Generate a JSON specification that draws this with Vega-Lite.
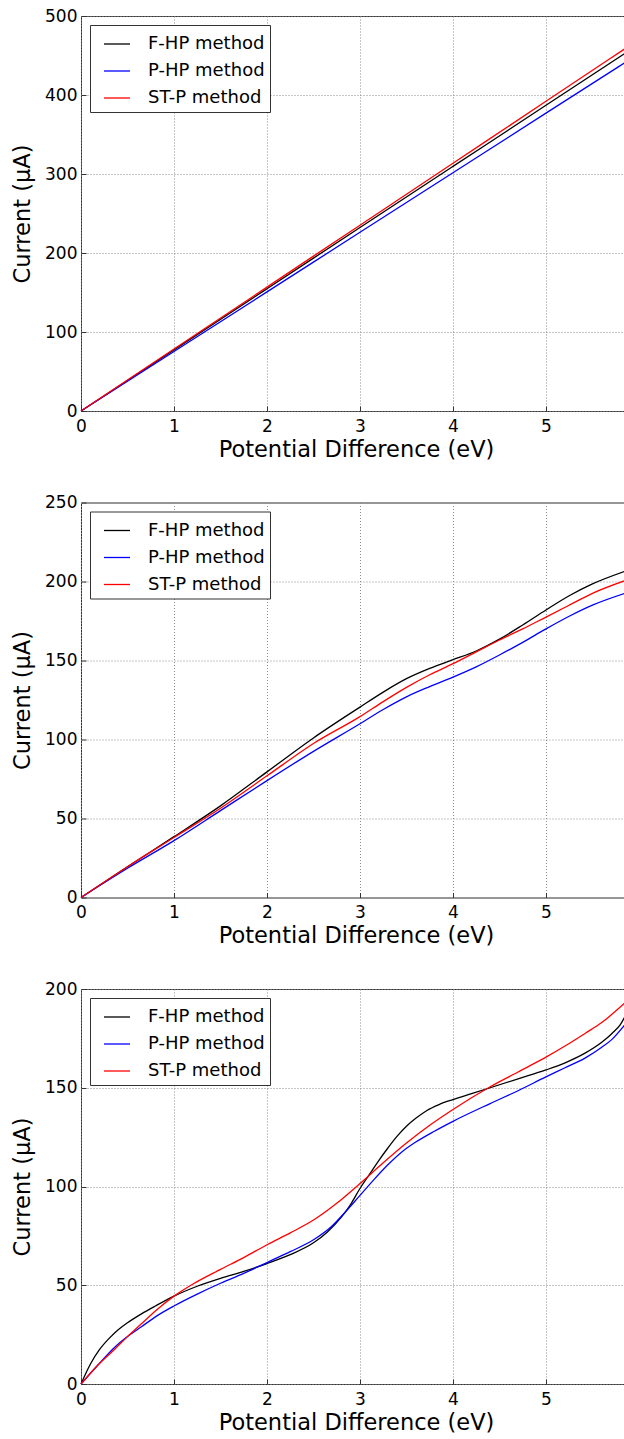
{
  "$schema": "https://vega.github.io/schema/vega-lite/v6.json",
  "padding": {"left": 11, "top": 6, "right": 0, "bottom": 0},
  "background": "white",
  "datasets": {
    "p1": [
      {"V": 0, "I": 0, "m": "F-HP method"}, {"V": 1, "I": 77.4, "m": "F-HP method"}, {"V": 2, "I": 154.8, "m": "F-HP method"}, {"V": 3, "I": 232.2, "m": "F-HP method"}, {"V": 4, "I": 309.6, "m": "F-HP method"}, {"V": 5, "I": 387, "m": "F-HP method"}, {"V": 5.85, "I": 452.8, "m": "F-HP method"},
      {"V": 0, "I": 0, "m": "P-HP method"}, {"V": 1, "I": 75.4, "m": "P-HP method"}, {"V": 2, "I": 150.8, "m": "P-HP method"}, {"V": 3, "I": 226.2, "m": "P-HP method"}, {"V": 4, "I": 301.6, "m": "P-HP method"}, {"V": 5, "I": 377, "m": "P-HP method"}, {"V": 5.85, "I": 441, "m": "P-HP method"},
      {"V": 0, "I": 0, "m": "ST-P method"}, {"V": 1, "I": 78.4, "m": "ST-P method"}, {"V": 2, "I": 156.8, "m": "ST-P method"}, {"V": 3, "I": 235.2, "m": "ST-P method"}, {"V": 4, "I": 313.6, "m": "ST-P method"}, {"V": 5, "I": 392, "m": "ST-P method"}, {"V": 5.85, "I": 458.6, "m": "ST-P method"}
    ],
    "p2": [
      {"V": 0, "I": 0, "m": "F-HP method"}, {"V": 0.5, "I": 19.5, "m": "F-HP method"}, {"V": 1, "I": 38.5, "m": "F-HP method"}, {"V": 1.5, "I": 58, "m": "F-HP method"}, {"V": 2, "I": 79.5, "m": "F-HP method"}, {"V": 2.5, "I": 101, "m": "F-HP method"}, {"V": 3, "I": 120.5, "m": "F-HP method"}, {"V": 3.25, "I": 130, "m": "F-HP method"}, {"V": 3.5, "I": 138.5, "m": "F-HP method"}, {"V": 3.75, "I": 145, "m": "F-HP method"}, {"V": 4, "I": 150.5, "m": "F-HP method"}, {"V": 4.25, "I": 156, "m": "F-HP method"}, {"V": 4.5, "I": 163.5, "m": "F-HP method"}, {"V": 4.75, "I": 172.5, "m": "F-HP method"}, {"V": 5, "I": 182, "m": "F-HP method"}, {"V": 5.25, "I": 191, "m": "F-HP method"}, {"V": 5.5, "I": 198.5, "m": "F-HP method"}, {"V": 5.85, "I": 206.5, "m": "F-HP method"},
      {"V": 0, "I": 0, "m": "P-HP method"}, {"V": 0.5, "I": 18.5, "m": "P-HP method"}, {"V": 1, "I": 36, "m": "P-HP method"}, {"V": 1.5, "I": 55, "m": "P-HP method"}, {"V": 2, "I": 74, "m": "P-HP method"}, {"V": 2.5, "I": 92.5, "m": "P-HP method"}, {"V": 3, "I": 110, "m": "P-HP method"}, {"V": 3.25, "I": 119, "m": "P-HP method"}, {"V": 3.5, "I": 127, "m": "P-HP method"}, {"V": 3.75, "I": 133.5, "m": "P-HP method"}, {"V": 4, "I": 139.5, "m": "P-HP method"}, {"V": 4.25, "I": 146, "m": "P-HP method"}, {"V": 4.5, "I": 153.5, "m": "P-HP method"}, {"V": 4.75, "I": 161.5, "m": "P-HP method"}, {"V": 5, "I": 170, "m": "P-HP method"}, {"V": 5.25, "I": 178, "m": "P-HP method"}, {"V": 5.5, "I": 185, "m": "P-HP method"}, {"V": 5.85, "I": 192.5, "m": "P-HP method"},
      {"V": 0, "I": 0, "m": "ST-P method"}, {"V": 0.5, "I": 19.5, "m": "ST-P method"}, {"V": 1, "I": 38, "m": "ST-P method"}, {"V": 1.5, "I": 56.5, "m": "ST-P method"}, {"V": 2, "I": 77, "m": "ST-P method"}, {"V": 2.5, "I": 97.5, "m": "ST-P method"}, {"V": 3, "I": 114.5, "m": "ST-P method"}, {"V": 3.25, "I": 124, "m": "ST-P method"}, {"V": 3.5, "I": 133, "m": "ST-P method"}, {"V": 3.75, "I": 141, "m": "ST-P method"}, {"V": 4, "I": 148, "m": "ST-P method"}, {"V": 4.25, "I": 155.5, "m": "ST-P method"}, {"V": 4.5, "I": 163, "m": "ST-P method"}, {"V": 4.75, "I": 170, "m": "ST-P method"}, {"V": 5, "I": 177.5, "m": "ST-P method"}, {"V": 5.25, "I": 185, "m": "ST-P method"}, {"V": 5.5, "I": 192.5, "m": "ST-P method"}, {"V": 5.85, "I": 200.5, "m": "ST-P method"}
    ],
    "p3": [
      {"V": 0, "I": 0, "m": "F-HP method"}, {"V": 0.1, "I": 10, "m": "F-HP method"}, {"V": 0.2, "I": 17.5, "m": "F-HP method"}, {"V": 0.3, "I": 23, "m": "F-HP method"}, {"V": 0.4, "I": 27.5, "m": "F-HP method"}, {"V": 0.5, "I": 31, "m": "F-HP method"}, {"V": 0.65, "I": 35.5, "m": "F-HP method"}, {"V": 0.8, "I": 39.5, "m": "F-HP method"}, {"V": 1, "I": 44.5, "m": "F-HP method"}, {"V": 1.25, "I": 49.5, "m": "F-HP method"}, {"V": 1.5, "I": 53.5, "m": "F-HP method"}, {"V": 1.75, "I": 57, "m": "F-HP method"}, {"V": 2, "I": 61, "m": "F-HP method"}, {"V": 2.25, "I": 65.5, "m": "F-HP method"}, {"V": 2.5, "I": 71.5, "m": "F-HP method"}, {"V": 2.65, "I": 77, "m": "F-HP method"}, {"V": 2.8, "I": 84.5, "m": "F-HP method"}, {"V": 2.9, "I": 91, "m": "F-HP method"}, {"V": 3, "I": 99, "m": "F-HP method"}, {"V": 3.1, "I": 106, "m": "F-HP method"}, {"V": 3.2, "I": 113, "m": "F-HP method"}, {"V": 3.3, "I": 119.5, "m": "F-HP method"}, {"V": 3.4, "I": 125.5, "m": "F-HP method"}, {"V": 3.5, "I": 130.5, "m": "F-HP method"}, {"V": 3.6, "I": 134.5, "m": "F-HP method"}, {"V": 3.72, "I": 138.5, "m": "F-HP method"}, {"V": 3.85, "I": 141.5, "m": "F-HP method"}, {"V": 4, "I": 144, "m": "F-HP method"}, {"V": 4.2, "I": 147, "m": "F-HP method"}, {"V": 4.4, "I": 150, "m": "F-HP method"}, {"V": 4.7, "I": 154.5, "m": "F-HP method"}, {"V": 5, "I": 159, "m": "F-HP method"}, {"V": 5.2, "I": 162.5, "m": "F-HP method"}, {"V": 5.42, "I": 167.5, "m": "F-HP method"}, {"V": 5.6, "I": 173, "m": "F-HP method"}, {"V": 5.71, "I": 177.5, "m": "F-HP method"}, {"V": 5.8, "I": 182, "m": "F-HP method"}, {"V": 5.85, "I": 186, "m": "F-HP method"},
      {"V": 0, "I": 0, "m": "P-HP method"}, {"V": 0.18, "I": 9.5, "m": "P-HP method"}, {"V": 0.36, "I": 18.5, "m": "P-HP method"}, {"V": 0.5, "I": 24, "m": "P-HP method"}, {"V": 0.65, "I": 29, "m": "P-HP method"}, {"V": 0.8, "I": 34, "m": "P-HP method"}, {"V": 1, "I": 39.5, "m": "P-HP method"}, {"V": 1.25, "I": 45.5, "m": "P-HP method"}, {"V": 1.5, "I": 51, "m": "P-HP method"}, {"V": 1.75, "I": 56, "m": "P-HP method"}, {"V": 2, "I": 61.5, "m": "P-HP method"}, {"V": 2.25, "I": 67, "m": "P-HP method"}, {"V": 2.5, "I": 73, "m": "P-HP method"}, {"V": 2.7, "I": 80, "m": "P-HP method"}, {"V": 2.85, "I": 87.5, "m": "P-HP method"}, {"V": 3, "I": 95.5, "m": "P-HP method"}, {"V": 3.15, "I": 103.5, "m": "P-HP method"}, {"V": 3.3, "I": 111, "m": "P-HP method"}, {"V": 3.45, "I": 117.5, "m": "P-HP method"}, {"V": 3.6, "I": 122.5, "m": "P-HP method"}, {"V": 3.8, "I": 128, "m": "P-HP method"}, {"V": 4, "I": 133, "m": "P-HP method"}, {"V": 4.4, "I": 142, "m": "P-HP method"}, {"V": 4.7, "I": 148.5, "m": "P-HP method"}, {"V": 5, "I": 155.5, "m": "P-HP method"}, {"V": 5.2, "I": 160, "m": "P-HP method"}, {"V": 5.42, "I": 165, "m": "P-HP method"}, {"V": 5.6, "I": 170.5, "m": "P-HP method"}, {"V": 5.71, "I": 174.5, "m": "P-HP method"}, {"V": 5.85, "I": 182, "m": "P-HP method"},
      {"V": 0, "I": 0, "m": "ST-P method"}, {"V": 0.18, "I": 9.5, "m": "ST-P method"}, {"V": 0.36, "I": 17.5, "m": "ST-P method"}, {"V": 0.5, "I": 24, "m": "ST-P method"}, {"V": 0.65, "I": 30.5, "m": "ST-P method"}, {"V": 0.8, "I": 37, "m": "ST-P method"}, {"V": 1, "I": 44.5, "m": "ST-P method"}, {"V": 1.2, "I": 50.5, "m": "ST-P method"}, {"V": 1.5, "I": 58, "m": "ST-P method"}, {"V": 1.75, "I": 64, "m": "ST-P method"}, {"V": 2, "I": 70.5, "m": "ST-P method"}, {"V": 2.25, "I": 76.5, "m": "ST-P method"}, {"V": 2.5, "I": 83, "m": "ST-P method"}, {"V": 2.75, "I": 91.5, "m": "ST-P method"}, {"V": 3, "I": 101.5, "m": "ST-P method"}, {"V": 3.25, "I": 112, "m": "ST-P method"}, {"V": 3.5, "I": 122, "m": "ST-P method"}, {"V": 3.75, "I": 131, "m": "ST-P method"}, {"V": 4, "I": 139, "m": "ST-P method"}, {"V": 4.4, "I": 150.5, "m": "ST-P method"}, {"V": 4.7, "I": 158, "m": "ST-P method"}, {"V": 5, "I": 165.5, "m": "ST-P method"}, {"V": 5.2, "I": 171, "m": "ST-P method"}, {"V": 5.42, "I": 177.5, "m": "ST-P method"}, {"V": 5.6, "I": 183, "m": "ST-P method"}, {"V": 5.85, "I": 193, "m": "ST-P method"}
    ]
  },
  "vconcat": [
    {
      "width": 544, "height": 395,
      "data": {"name": "p1"},
      "mark": {"type": "line", "interpolate": "monotone", "strokeWidth": 1.3},
      "encoding": {
        "x": {"field": "V", "type": "quantitative", "title": "Potential Difference (eV)", "scale": {"domain": [0, 5.85], "nice": false}, "axis": {"values": [0, 1, 2, 3, 4, 5]}},
        "y": {"field": "I", "type": "quantitative", "title": "Current (μA)", "scale": {"domain": [0, 500], "nice": false}, "axis": {"values": [0, 100, 200, 300, 400, 500]}},
        "color": {"field": "m", "type": "nominal", "scale": {"domain": ["F-HP method", "P-HP method", "ST-P method"], "range": ["#000000", "#0000ff", "#ff0000"]}, "legend": {"orient": "top-left", "offset": 9}}
      }
    },
    {
      "width": 544, "height": 395,
      "data": {"name": "p2"},
      "mark": {"type": "line", "interpolate": "monotone", "strokeWidth": 1.3},
      "encoding": {
        "x": {"field": "V", "type": "quantitative", "title": "Potential Difference (eV)", "scale": {"domain": [0, 5.85], "nice": false}, "axis": {"values": [0, 1, 2, 3, 4, 5]}},
        "y": {"field": "I", "type": "quantitative", "title": "Current (μA)", "scale": {"domain": [0, 250], "nice": false}, "axis": {"values": [0, 50, 100, 150, 200, 250]}},
        "color": {"field": "m", "type": "nominal", "scale": {"domain": ["F-HP method", "P-HP method", "ST-P method"], "range": ["#000000", "#0000ff", "#ff0000"]}, "legend": {"orient": "top-left", "offset": 9}}
      }
    },
    {
      "width": 544, "height": 395,
      "data": {"name": "p3"},
      "mark": {"type": "line", "interpolate": "monotone", "strokeWidth": 1.3},
      "encoding": {
        "x": {"field": "V", "type": "quantitative", "title": "Potential Difference (eV)", "scale": {"domain": [0, 5.85], "nice": false}, "axis": {"values": [0, 1, 2, 3, 4, 5]}},
        "y": {"field": "I", "type": "quantitative", "title": "Current (μA)", "scale": {"domain": [0, 200], "nice": false}, "axis": {"values": [0, 50, 100, 150, 200]}},
        "color": {"field": "m", "type": "nominal", "scale": {"domain": ["F-HP method", "P-HP method", "ST-P method"], "range": ["#000000", "#0000ff", "#ff0000"]}, "legend": {"orient": "top-left", "offset": 9}}
      }
    }
  ],
  "spacing": 91.5,
  "bounds": "flush",
  "resolve": {"scale": {"color": "independent", "x": "independent", "y": "independent"}, "legend": {"color": "independent"}},
  "config": {
    "font": "DejaVu Sans",
    "view": {"stroke": "#333333", "strokeWidth": 1},
    "axis": {
      "labelFont": "DejaVu Sans", "titleFont": "DejaVu Sans",
      "labelFontSize": 17, "titleFontSize": 22.5, "titleFontWeight": "normal",
      "labelColor": "#000000", "titleColor": "#000000",
      "grid": true, "gridColor": "#8c8c8c", "gridDash": [1, 2], "gridWidth": 1,
      "domain": false, "ticks": true, "tickSize": -5, "tickColor": "#333333", "tickWidth": 1,
      "labelFlush": false, "labelOverlap": false
    },
    "axisX": {"labelPadding": 12, "titlePadding": 4, "titleX": 275},
    "axisY": {"labelPadding": 9, "titlePadding": 10},
    "legend": {
      "title": null, "labelFont": "DejaVu Sans", "labelFontSize": 18, "labelColor": "#000000",
      "symbolType": "stroke", "symbolSize": 676, "symbolStrokeWidth": 1.3,
      "strokeColor": "#333333", "fillColor": "#ffffff", "padding": 5, "rowPadding": 4,
      "labelOffset": 17, "symbolOffset": 8, "cornerRadius": 0
    }
  }
}
